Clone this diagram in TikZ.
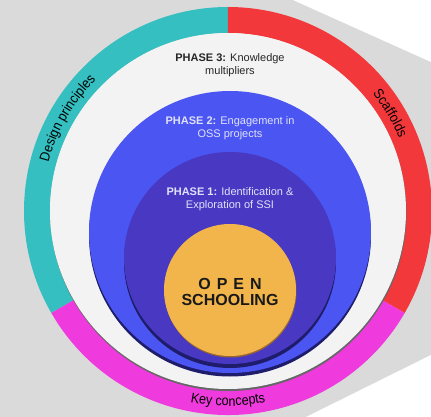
\documentclass[tikz,border=0pt]{standalone}
\usepackage{fontspec}
\setmainfont{Liberation Sans}
\newfontfamily\arcfont[FakeStretch=0.9]{Liberation Sans}
\usetikzlibrary{decorations.text}
\definecolor{bggray}{HTML}{DADADA}
\definecolor{ringteal}{HTML}{35BFC0}
\definecolor{ringred}{HTML}{F3383C}
\definecolor{ringpink}{HTML}{EF3BDD}
\definecolor{diskwhite}{HTML}{F3F3F3}
\definecolor{diskblue}{HTML}{4A55F2}
\definecolor{diskpurple}{HTML}{4838C2}
\definecolor{diskorange}{HTML}{F1B54B}
\definecolor{navyshade}{HTML}{1F1D6B}
\definecolor{phasetext}{HTML}{E0E2FA}
\begin{document}
\begin{tikzpicture}[x=1pt,y=1pt,
  phase/.style={align=center, font=\fontsize{11}{13}\selectfont},
  arclabel/.style={decorate, decoration={text along path, text align=center,
    text={|\arcfont\fontsize{14}{14}\selectfont|#1}}}]
% background
\fill[bggray] (-228,-206) rectangle (203,211);
\useasboundingbox (-228,-206) rectangle (203,211);
\fill[white] (65,211) -- (203,211) -- (203,149) -- cycle;
\fill[white] (203,-144) -- (203,-206) -- (78,-206) -- cycle;
% outer ring
\foreach \a/\b/\c in {90/210/ringteal, -30/90/ringred, 210/330/ringpink}
  \fill[\c] (\a:204) arc[start angle=\a, end angle=\b, radius=204]
    -- (\b:178) arc[start angle=\b, end angle=\a, radius=178] -- cycle;
\path[arclabel={Design principles}] (185:186) arc[start angle=185, end angle=115, radius=186];
\path[arclabel={Scaffolds}] (61:186) arc[start angle=61, end angle=1, radius=186];
\path[arclabel={Key concepts}] (240:195) arc[start angle=240, end angle=300, radius=195];
% discs
\fill[gray!80!black] (0.5,-2) circle[radius=178];
\fill[diskwhite] (0,0) circle[radius=178];
\fill[navyshade] (2,-24.5) circle[radius=141];
\fill[diskblue] (2,-21) circle[radius=141];
\fill[navyshade] (2,-51) circle[radius=106];
\fill[diskpurple] (2,-47) circle[radius=106];
\fill[brown!80!black] (2.5,-80.5) circle[radius=66];
\fill[diskorange] (2,-79) circle[radius=66];
% labels
\node[phase, text=black!85] (ph3) at (2,145.5) {\textbf{PHASE 3:} Knowledge\\multipliers};
\node[phase, text=phasetext] (ph2) at (2,83) {\textbf{PHASE 2:} Engagement in\\OSS projects};
\node[phase, text=phasetext] (ph1) at (2,11.5) {\textbf{PHASE 1:} Identification \&\\Exploration of SSI};
\node[align=center, text=black!90, font=\bfseries\fontsize{16}{16}\selectfont] (core) at (2,-81)
  {O\hspace{6pt}P\hspace{6pt}E\hspace{6pt}N\\SCHOOLING};
\end{tikzpicture}
\end{document}
